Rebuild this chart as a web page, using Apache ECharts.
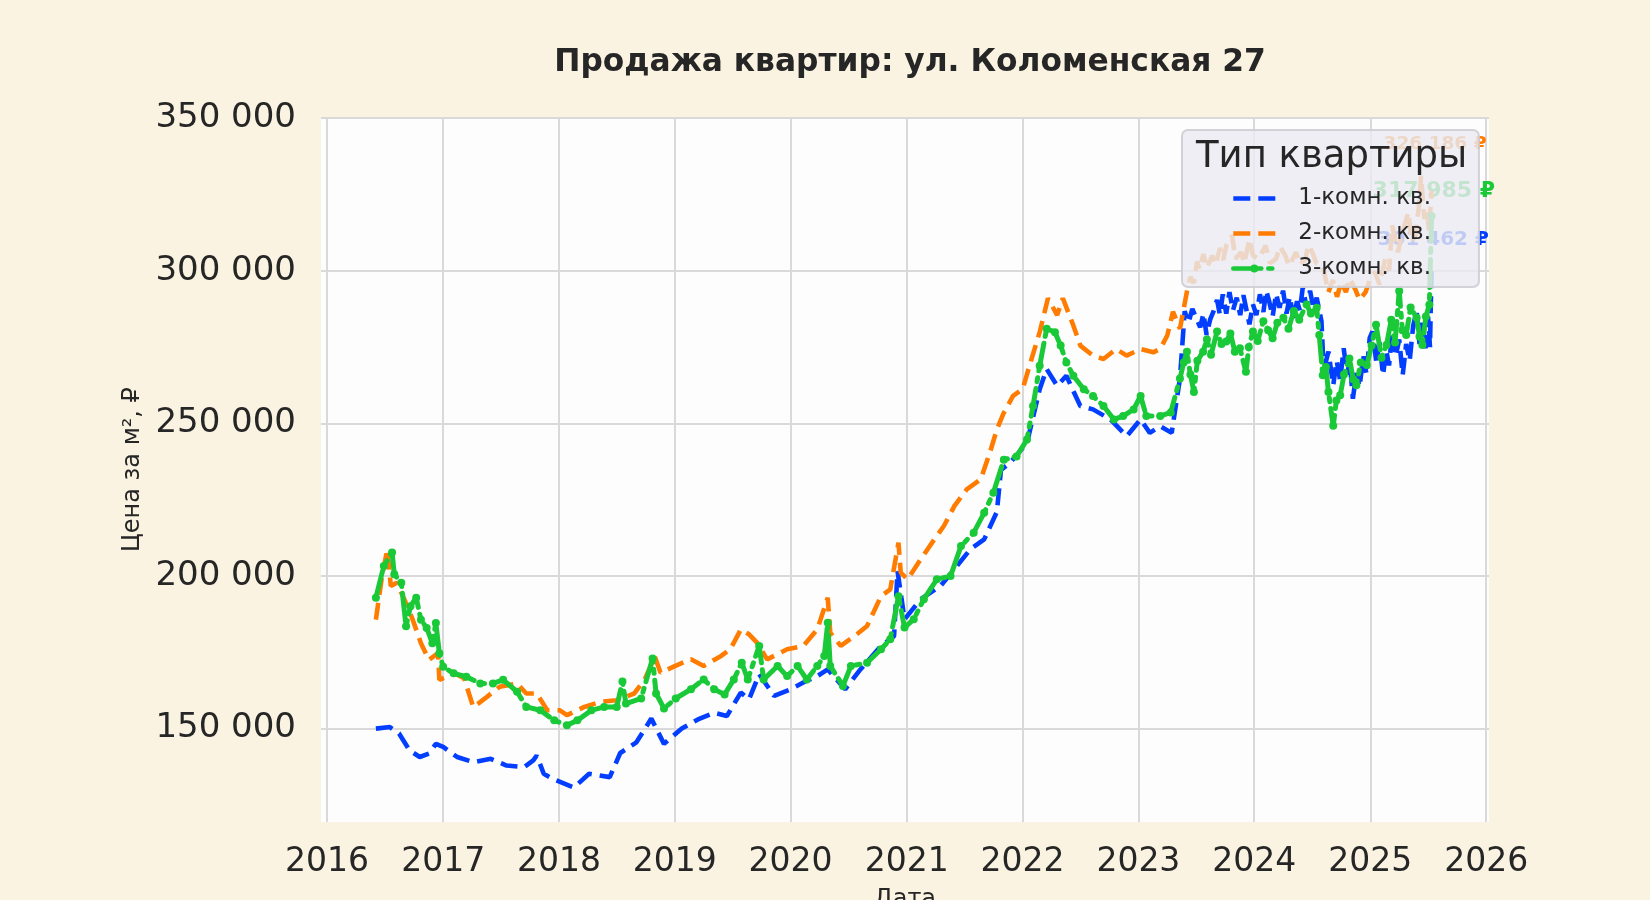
<!DOCTYPE html>
<html>
<head>
	<meta charset="UTF-8">
	<title>Продажа квартир</title>
	<script src="https://cdn.jsdelivr.net/npm/echarts@6/dist/echarts.min.js"></script>
	<style>
		html, body { margin: 0; padding: 0; background: #FAF3E1; }
		#main { width: 1650px; height: 900px; }
	</style>
</head>
<body>
<div id="main"></div>
<script>
	// 1-комн. кв.
	var dates1 = ['2016-06-03','2016-07-17','2016-08-15','2016-09-17','2016-10-19','2016-11-17','2016-12-09','2017-01-01',
		'2017-02-14','2017-04-06','2017-05-31','2017-07-20','2017-09-13','2017-10-12','2017-10-23','2017-11-14','2017-12-13',
		'2018-02-17','2018-04-06','2018-06-10','2018-07-13','2018-09-02','2018-10-19','2018-11-28','2019-01-23','2019-03-15',
		'2019-05-05','2019-06-14','2019-07-28','2019-08-23','2019-09-24','2019-11-10','2020-01-01','2020-02-10','2020-03-25',
		'2020-04-27','2020-06-21','2020-08-08','2020-10-12','2020-11-22','2020-12-03','2020-12-25','2021-02-14','2021-04-17',
		'2021-05-31','2021-07-20','2021-09-02','2021-10-12','2021-10-25','2021-11-22','2022-01-15','2022-02-24','2022-03-18',
		'2022-04-20','2022-05-19','2022-07-02','2022-08-11','2022-10-05','2022-11-25','2023-01-08','2023-02-06','2023-03-11',
		'2023-04-16','2023-05-12','2023-05-27','2023-06-08','2023-06-20','2023-07-02','2023-07-15','2023-07-25','2023-08-04',
		'2023-08-15','2023-08-26','2023-09-06','2023-09-15','2023-09-24','2023-10-05','2023-10-15','2023-10-26','2023-11-07',
		'2023-11-18','2023-11-28','2023-12-08','2023-12-17','2023-12-28','2024-01-08','2024-01-19','2024-01-30','2024-02-08',
		'2024-02-17','2024-02-28','2024-03-10','2024-03-21','2024-04-01','2024-04-12','2024-04-22','2024-05-04','2024-05-15',
		'2024-05-24','2024-06-02','2024-06-14','2024-06-25','2024-07-06','2024-07-16','2024-07-31','2024-08-05','2024-08-11',
		'2024-08-22','2024-09-06','2024-09-17','2024-09-28','2024-10-09','2024-10-20','2024-10-28','2024-11-07','2024-11-18',
		'2024-11-28','2024-12-10','2024-12-20','2024-12-30','2025-01-08','2025-01-20','2025-01-30','2025-02-10','2025-02-20',
		'2025-03-01','2025-03-11','2025-03-22','2025-04-02','2025-04-13','2025-04-24','2025-05-05','2025-05-16','2025-05-27',
		'2025-06-05','2025-06-14','2025-06-24','2025-07-02','2025-07-08','2025-07-13'];
	var prices1 = [150000,150500,148400,142900,140700,141800,145000,144000,
		140700,139000,140100,137900,137400,139600,141200,135200,133500,
		130700,135200,134100,142000,145500,153300,145000,150000,153000,
		155200,154100,161800,159600,167800,160700,162900,165100,167200,
		169400,162900,169400,177100,180300,201600,185800,192400,196700,
		202200,208700,212000,221000,234800,237000,243600,261200,267800,
		262300,265600,255700,254600,251300,245800,251300,246900,249100,
		246900,264700,286800,283000,287500,284600,281500,286000,279000,
		284000,286800,290500,285500,292300,286000,293000,287000,291200,
		285500,292000,287000,282500,289000,285500,292300,286500,293500,
		290100,285000,292500,287900,293500,286000,291500,284600,290000,
		287000,294500,288000,293500,287500,291200,283500,272000,269100,
		273500,262500,270500,264000,274600,266000,270500,258100,266500,
		262000,272000,266000,278000,280100,270000,276500,265800,274000,
		269000,280100,272000,277500,265800,276000,270500,282000,286800,
		276000,283000,274600,285000,275000,301462];

	// 2-комн. кв.
	var dates2 = ['2016-06-03','2016-06-21','2016-07-09','2016-07-20','2016-08-08','2016-09-02','2016-09-27','2016-10-23',
		'2016-11-17','2016-12-16','2016-12-20','2017-02-06','2017-03-08','2017-04-06','2017-05-19','2017-06-28','2017-08-22',
		'2017-09-20','2017-10-23','2017-11-25','2018-01-04','2018-01-26','2018-03-22','2018-05-12','2018-07-02','2018-08-26',
		'2018-09-28','2018-10-30','2018-11-17','2019-01-01','2019-02-21','2019-04-02','2019-05-27','2019-06-25','2019-07-28',
		'2019-08-23','2019-09-17','2019-10-19','2019-12-21','2020-02-10','2020-03-25','2020-04-27','2020-05-05','2020-06-07',
		'2020-07-20','2020-08-29','2020-10-12','2020-11-10','2020-12-06','2020-12-13','2021-01-04','2021-02-14','2021-03-29',
		'2021-04-28','2021-05-31','2021-07-09','2021-08-22','2021-09-20','2021-10-12','2021-11-03','2021-12-02','2022-01-01',
		'2022-01-26','2022-02-24','2022-03-22','2022-04-20','2022-05-08','2022-06-10','2022-07-02','2022-08-11','2022-09-13',
		'2022-10-23','2022-11-25','2023-01-08','2023-02-17','2023-03-11','2023-04-02','2023-04-20','2023-05-12','2023-06-03',
		'2023-06-14','2023-06-25','2023-07-05','2023-07-13','2023-07-25','2023-08-05','2023-08-22','2023-09-02','2023-09-15',
		'2023-09-25','2023-10-05','2023-10-23','2023-11-03','2023-11-21','2023-12-01','2023-12-17','2023-12-28','2024-01-15',
		'2024-02-06','2024-02-20','2024-03-10','2024-03-22','2024-04-08','2024-04-20','2024-05-12','2024-05-25','2024-06-10',
		'2024-06-20','2024-07-02','2024-07-15','2024-08-04','2024-08-22','2024-09-05','2024-09-18','2024-10-02','2024-10-16',
		'2024-10-28','2024-11-14','2024-11-28','2024-12-17','2025-01-01','2025-01-15','2025-01-30','2025-02-17','2025-03-01',
		'2025-03-11','2025-03-29','2025-04-12','2025-05-01','2025-05-12','2025-05-23','2025-06-03','2025-06-10','2025-06-20',
		'2025-06-28','2025-07-05','2025-07-13'];
	var prices2 = [185700,199000,208800,196700,197800,192000,185700,178000,
		172500,174700,166000,168100,166500,157000,160400,163700,164800,
		161500,161500,156000,156000,154400,157100,158800,159300,161500,
		166000,173600,168300,170500,172700,170500,173800,176000,182500,
		180900,178200,172700,176000,177100,182500,192900,181400,177100,
		180300,183600,193400,195600,210900,201100,198900,205500,212000,
		216400,222900,228400,231700,240400,248000,253500,259000,261200,
		270000,279900,291000,285500,291000,282100,275500,272200,271100,
		274400,272200,274400,273300,274400,278800,286600,281000,293200,
		298000,296000,303000,300500,305500,301000,305000,302000,307500,
		303500,308300,311600,304000,306100,302500,310500,305000,303900,
		308300,302500,303900,308000,305000,301500,306100,302000,303900,
		308500,306100,302500,301700,293000,297000,291500,296500,293000,
		297500,294100,290500,293000,297500,299600,295500,303900,300000,
		314900,306100,312500,319200,309500,311600,321000,331200,317000,
		320300,313000,326186];

	// 3-комн. кв.
	var dates3 = ['2016-06-03','2016-06-28','2016-07-24','2016-07-31','2016-08-22','2016-09-06','2016-09-20','2016-10-08',
		'2016-10-23','2016-11-10','2016-11-28','2016-12-09','2016-12-20','2017-01-01','2017-02-03','2017-03-15','2017-04-28',
		'2017-06-07','2017-07-09','2017-08-22','2017-09-20','2017-11-03','2017-12-17','2018-01-26','2018-02-28','2018-04-13',
		'2018-05-23','2018-07-02','2018-07-20','2018-07-31','2018-09-17','2018-10-23','2018-11-03','2018-11-28','2019-01-04',
		'2019-02-21','2019-04-02','2019-05-05','2019-06-07','2019-07-06','2019-07-31','2019-08-19','2019-09-24','2019-10-08',
		'2019-11-21','2019-12-21','2020-01-23','2020-02-21','2020-03-25','2020-04-16','2020-04-27','2020-05-05','2020-06-14',
		'2020-07-09','2020-08-29','2020-10-12','2020-11-10','2020-12-06','2020-12-25','2021-01-23','2021-02-24','2021-04-06',
		'2021-05-19','2021-06-21','2021-07-31','2021-09-02','2021-10-01','2021-11-03','2021-12-13','2022-01-15','2022-02-03',
		'2022-02-24','2022-03-18','2022-04-13','2022-05-01','2022-05-19','2022-06-10','2022-07-13','2022-08-11','2022-09-13',
		'2022-10-16','2022-11-14','2022-12-17','2023-01-08','2023-01-26','2023-03-11','2023-04-13','2023-05-12','2023-05-24',
		'2023-06-03','2023-06-14','2023-06-25','2023-07-06','2023-07-24','2023-08-05','2023-08-18','2023-09-06','2023-09-20',
		'2023-10-05','2023-10-18','2023-11-01','2023-11-17','2023-12-06','2023-12-15','2023-12-28','2024-01-12','2024-01-30',
		'2024-02-14','2024-02-28','2024-03-14','2024-04-02','2024-04-18','2024-05-05','2024-05-22','2024-06-14','2024-06-28',
		'2024-07-16','2024-07-24','2024-08-04','2024-08-14','2024-08-22','2024-09-06','2024-09-16','2024-09-28','2024-10-10',
		'2024-10-27','2024-11-08','2024-11-18','2024-12-02','2024-12-21','2025-01-05','2025-01-19','2025-02-05','2025-02-21',
		'2025-03-08','2025-03-20','2025-04-02','2025-04-12','2025-04-24','2025-05-08','2025-05-27','2025-06-05','2025-06-14',
		'2025-06-25','2025-07-06','2025-07-13'];
	var prices3 = [192900,203300,207700,200600,197800,183500,190100,192900,
		185700,183000,178000,184600,174700,170300,168100,167000,164800,
		164800,166000,162100,157100,156000,152700,151100,152700,156000,
		157100,157100,165400,158200,159900,173000,161500,156600,159900,
		162900,166100,162900,161200,166100,171600,166100,177100,166100,
		170500,167200,170500,166100,170500,173800,184700,170500,164000,
		170500,171600,176000,179300,193400,183100,185800,192400,198900,
		200000,209800,214200,220700,227300,238100,239200,244700,255700,
		268900,281000,279900,275500,270000,265600,261200,259000,255700,
		251300,252400,254600,259000,252400,252400,253600,264700,270000,
		273500,266000,260300,270500,273500,277500,272500,280100,276000,
		276800,279500,273500,274600,266900,275000,280100,277000,283500,
		280500,277900,283000,284600,281000,286800,284000,289000,286000,
		287900,279000,265800,268500,260300,249200,257500,259200,266000,
		271300,264500,262500,270000,269100,275500,282300,271500,275700,
		284000,276500,293400,280500,279000,288000,284600,278500,275700,
		285000,288900,317985];

	var seriesNames = ['1-комн. кв.', '2-комн. кв.', '3-комн. кв.'];
	var seriesColors = ['#023eff', '#ff7c00', '#1ac938'];
	var yearTicks = [2016, 2017, 2018, 2019, 2020, 2021, 2022, 2023, 2024, 2025, 2026];
	var priceTicks = [150000, 200000, 250000, 300000, 350000];

	var font = 'DejaVu Sans';
	var textColor = '#262626';
	var dashLine = [17, 8];
	var dashDot = [28, 7, 4, 7];

	function ts(s) {
		var p = s.split('-');
		return new Date(+p[0], +p[1] - 1, +p[2]).getTime();
	}

	function fmt(v) {
		return String(v).replace(/\B(?=(\d{3})+(?!\d))/g, ' ');
	}

	function pairs(d, p) {
		var out = [];
		for (var i = 0; i < d.length; i++) out.push([ts(d[i]), p[i]]);
		return out;
	}

	// подпись последнего значения у конца линии
	function lastMark(d, p, color, offset, size) {
		var i = d.length - 1;
		return {
			symbol: 'circle',
			symbolSize: 0,
			z: 3,
			data: [{ coord: [ts(d[i]), p[i]], value: p[i] }],
			label: {
				show: true,
				position: 'inside',
				align: 'left',
				verticalAlign: 'middle',
				offset: offset,
				formatter: function (prm) { return fmt(prm.value) + ' ₽'; },
				color: color,
				fontFamily: font,
				fontWeight: 'bold',
				fontSize: size
			}
		};
	}

	var yearStamps = yearTicks.map(function (y) { return new Date(y, 0, 1).getTime(); });

	var myChart = echarts.init(document.getElementById('main'), null, { renderer: 'canvas' });

	var option = {
		animation: false,
		backgroundColor: '#FAF3E1',
		title: [
			{
				text: 'Продажа квартир: ул. Коломенская 27',
				left: 905,
				textAlign: 'center',
				top: 42,
				textStyle: { fontFamily: font, fontWeight: 'bold', fontSize: 31.3, color: textColor }
			},
			{
				// заголовок легенды
				text: 'Тип квартиры',
				left: 1191,
				top: 134,
				z: 20,
				textStyle: { fontFamily: font, fontWeight: 'normal', fontSize: 37, color: textColor }
			}
		],
		legend: {
			data: [
				{ name: seriesNames[0], itemStyle: { opacity: 0 }, lineStyle: { type: dashLine, width: 4.6 } },
				{ name: seriesNames[1], itemStyle: { opacity: 0 }, lineStyle: { type: dashLine, width: 4.6 } },
				{ name: seriesNames[2], lineStyle: { type: dashDot, width: 4.6 } }
			],
			orient: 'vertical',
			left: 1182,
			top: 130,
			z: 10,
			padding: [57, 48, 7, 49],
			itemGap: 12,
			itemWidth: 42,
			itemHeight: 10,
			backgroundColor: 'rgba(234,234,242,0.82)',
			borderColor: 'rgba(205,205,212,0.9)',
			borderWidth: 2,
			borderRadius: 6,
			textStyle: { fontFamily: font, fontSize: 23, color: textColor, padding: [0, 0, 0, 18] }
		},
		grid: {
			left: 321,
			right: 161,
			top: 117,
			bottom: 78,
			show: true,
			backgroundColor: '#FDFDFD',
			borderWidth: 0,
			containLabel: false,
			outerBoundsMode: 'none'
		},
		xAxis: {
			type: 'value',
			min: ts('2015-12-13'),
			max: ts('2026-01-10'),
			name: 'Дата',
			nameLocation: 'middle',
			nameGap: 66,
			nameTextStyle: { fontFamily: font, fontSize: 24, color: textColor },
			axisLine: { show: false },
			axisTick: { show: false, customValues: yearStamps },
			axisLabel: {
				customValues: yearStamps,
				formatter: function (v) { return String(new Date(v).getFullYear()); },
				fontFamily: font,
				fontSize: 33,
				color: textColor,
				margin: 24
			},
			splitLine: { show: true, lineStyle: { color: '#D9D9D9', width: 2 } }
		},
		yAxis: {
			type: 'value',
			min: 119400,
			max: 350400,
			name: 'Цена за м², ₽',
			nameLocation: 'middle',
			nameRotate: 90,
			nameGap: 176,
			nameTextStyle: { fontFamily: font, fontSize: 24, color: textColor },
			axisLine: { show: false },
			axisTick: { show: false, customValues: priceTicks },
			axisLabel: {
				customValues: priceTicks,
				formatter: function (v) { return fmt(v); },
				fontFamily: font,
				fontSize: 34,
				color: textColor,
				margin: 25
			},
			splitLine: { show: true, lineStyle: { color: '#D9D9D9', width: 2 } }
		},
		series: [
			{
				name: seriesNames[0],
				type: 'line',
				data: pairs(dates1, prices1),
				showSymbol: false,
				symbol: 'none',
				color: seriesColors[0],
				lineStyle: { width: 4.6, type: dashLine, color: seriesColors[0] },
				markPoint: lastMark(dates1, prices1, seriesColors[0], [-54, -27], 20)
			},
			{
				name: seriesNames[1],
				type: 'line',
				data: pairs(dates2, prices2),
				showSymbol: false,
				symbol: 'none',
				color: seriesColors[1],
				lineStyle: { width: 4.6, type: dashLine, color: seriesColors[1] },
				markPoint: lastMark(dates2, prices2, seriesColors[1], [-48, -47], 18.5)
			},
			{
				name: seriesNames[2],
				type: 'line',
				data: pairs(dates3, prices3),
				symbol: 'circle',
				symbolSize: 8,
				showSymbol: true,
				color: seriesColors[2],
				itemStyle: { color: seriesColors[2] },
				lineStyle: { width: 5, type: dashDot, cap: 'round', color: seriesColors[2] },
				markPoint: lastMark(dates3, prices3, seriesColors[2], [-59, -25], 22)
			}
		]
	};

	myChart.setOption(option);
</script>
</body>
</html>
